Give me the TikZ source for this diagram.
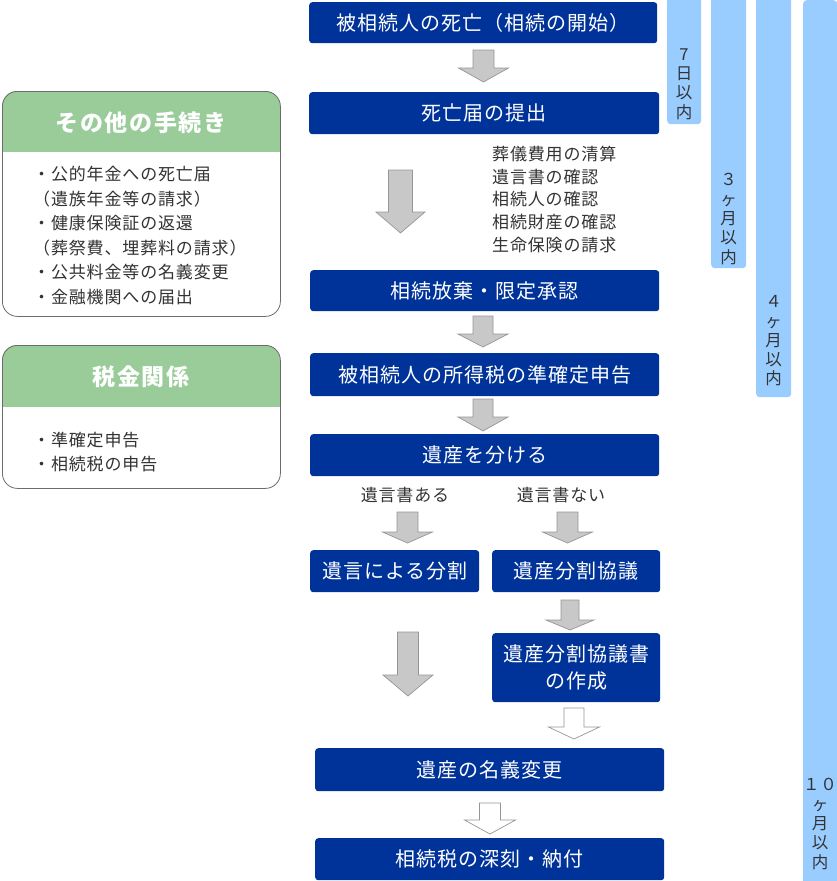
\documentclass[tikz,border=0pt]{standalone}
\usepackage{fontspec}
\setmainfont{Noto Sans CJK JP}
\newfontfamily\boxfont{Noto Sans CJK JP}[LetterSpace=5]
\newfontfamily\hdrfont{Noto Sans CJK JP}[LetterSpace=7]
\newfontfamily\listfont{Noto Sans CJK JP}[LetterSpace=5]
\definecolor{boxblue}{RGB}{0,51,153}
\definecolor{barblue}{RGB}{153,204,255}
\definecolor{hdrgreen}{RGB}{153,204,153}
\definecolor{txtgray}{RGB}{51,51,51}
\definecolor{arrfill}{RGB}{200,200,200}
\definecolor{arrline}{RGB}{150,150,150}
\newcommand\blkarrow[7]{%
  \draw[#1] (#2-#5,#3) -- (#2+#5,#3) -- (#2+#5,#4) -- (#2+#6,#4) -- (#2,#7)
    -- (#2-#6,#4) -- (#2-#5,#4) -- cycle;}
\begin{document}
\begin{tikzpicture}[x=1pt,y=-1pt,
  bluebox/.style={fill=boxblue, rounded corners=3pt, anchor=north west,
    inner sep=0pt, text=white, align=center,
    font=\boxfont\fontsize{20}{27}\selectfont},
  barbox/.style={fill=barblue, rounded corners=3.5pt, anchor=north west, inner sep=0pt},
  bartext/.style={text=txtgray, align=center, inner sep=0pt,
    font=\listfont\fontsize{16.5}{19.3}\selectfont},
  sidebox/.style={draw=gray!85!black, line width=0.8pt, rounded corners=15pt,
    anchor=north west, inner sep=0pt},
  hdrtext/.style={text=white, inner sep=0pt, font=\hdrfont\bfseries\fontsize{23}{26}\selectfont},
  itemtext/.style={text=txtgray, anchor=west, inner sep=0pt,
    font=\listfont\fontsize{17}{20}\selectfont},
  grayarrow/.style={fill=arrfill, draw=arrline, line width=0.7pt, line join=miter},
  whitearrow/.style={fill=white, draw=arrline, line width=0.7pt, line join=miter}
]
\useasboundingbox (0,0) rectangle (837,881);

% time bars
\node[barbox, minimum width=34pt, minimum height=127pt] (bar1) at (667,-3) {};
\node[barbox, minimum width=35pt, minimum height=271pt] (bar2) at (711,-3) {};
\node[barbox, minimum width=35pt, minimum height=400pt] (bar3) at (756,-3) {};
\node[barbox, minimum width=34pt, minimum height=884pt] (bar4) at (803,0) {};
\node[bartext] (bar1t) at (684,84) {7\\日\\以\\内};
\node[bartext] (bar2t) at (728.5,219) {３\\ヶ\\月\\以\\内};
\node[bartext] (bar3t) at (773.5,341) {４\\ヶ\\月\\以\\内};
\node[bartext] (bar4t) at (820,824) {１０\\ヶ\\月\\以\\内};

% main flow boxes
\node[bluebox, minimum width=348pt, minimum height=41pt] (b1) at (309,2) {被相続人の死亡（相続の開始）};
\node[bluebox, minimum width=350pt, minimum height=42pt] (b2) at (309,92) {死亡届の提出};
\node[bluebox, minimum width=349pt, minimum height=41pt] (b3) at (310,270) {相続放棄・限定承認};
\node[bluebox, minimum width=349pt, minimum height=43pt] (b4) at (310,353) {被相続人の所得税の準確定申告};
\node[bluebox, minimum width=349pt, minimum height=42pt] (b5) at (310,434) {遺産を分ける};
\node[bluebox, minimum width=169pt, minimum height=42pt] (b6) at (310,550) {遺言による分割};
\node[bluebox, minimum width=168pt, minimum height=42pt] (b7) at (492,550) {遺産分割協議};
\node[bluebox, minimum width=168pt, minimum height=69pt] (b8) at (492,633) {遺産分割協議書\\の作成};
\node[bluebox, minimum width=349pt, minimum height=43pt] (b9) at (315,748) {遺産の名義変更};
\node[bluebox, minimum width=349pt, minimum height=42pt] (b10) at (315,838) {相続税の深刻・納付};

% notes
\foreach \t [count=\i] in {葬儀費用の清算,遺言書の確認,相続人の確認,相続財産の確認,生命保険の請求}
  \node[itemtext] (n\i) at (492,154+22.7*\i-22.7) {\t};
\node[itemtext, anchor=center] (yes) at (405,495) {遺言書ある};
\node[itemtext, anchor=center] (no) at (561,495) {遺言書ない};

% block arrows
\blkarrow{grayarrow}{483.5}{50}{68}{10.5}{25}{82}
\blkarrow{grayarrow}{400.5}{170}{212}{12}{24.5}{233}
\blkarrow{grayarrow}{483}{316}{334}{10}{25}{347}
\blkarrow{grayarrow}{483}{399}{417}{10}{25}{431}
\blkarrow{grayarrow}{407.5}{512}{532}{10.5}{25}{543}
\blkarrow{grayarrow}{567.5}{512}{532}{10.5}{25}{543}
\blkarrow{grayarrow}{570}{600}{620}{9}{24}{630}
\blkarrow{grayarrow}{408}{632}{675}{10.5}{25}{696}
\blkarrow{whitearrow}{574}{708}{727}{10}{25.5}{739}
\blkarrow{whitearrow}{490}{803}{820}{10.5}{25.5}{834}

% side box: other procedures
\fill[white, rounded corners=15pt] (2,91) rectangle (280,316);
\begin{scope}
  \clip[rounded corners=15pt] (2,91) rectangle (280,316);
  \fill[hdrgreen] (2,91) rectangle (280,152);
\end{scope}
\node[sidebox, minimum width=278pt, minimum height=225pt] (other) at (2,91) {};
\node[hdrtext] (otherh) at (141,123) {その他の手続き};
\foreach \t [count=\i] in {・公的年金への死亡届,（遺族年金等の請求）,・健康保険証の返還,（葬祭費、埋葬料の請求）,・公共料金等の名義変更,・金融機関への届出}
  \node[itemtext] (o\i) at (33,174+24.6*\i-24.6) {\t};

% side box: taxes
\fill[white, rounded corners=15pt] (2,345) rectangle (280,488);
\begin{scope}
  \clip[rounded corners=15pt] (2,345) rectangle (280,488);
  \fill[hdrgreen] (2,345) rectangle (280,407);
\end{scope}
\node[sidebox, minimum width=278pt, minimum height=143pt] (tax) at (2,345) {};
\node[hdrtext] (taxh) at (141,377) {税金関係};
\node[itemtext] (t1) at (33,440) {・準確定申告};
\node[itemtext] (t2) at (33,464) {・相続税の申告};
\end{tikzpicture}
\end{document}
